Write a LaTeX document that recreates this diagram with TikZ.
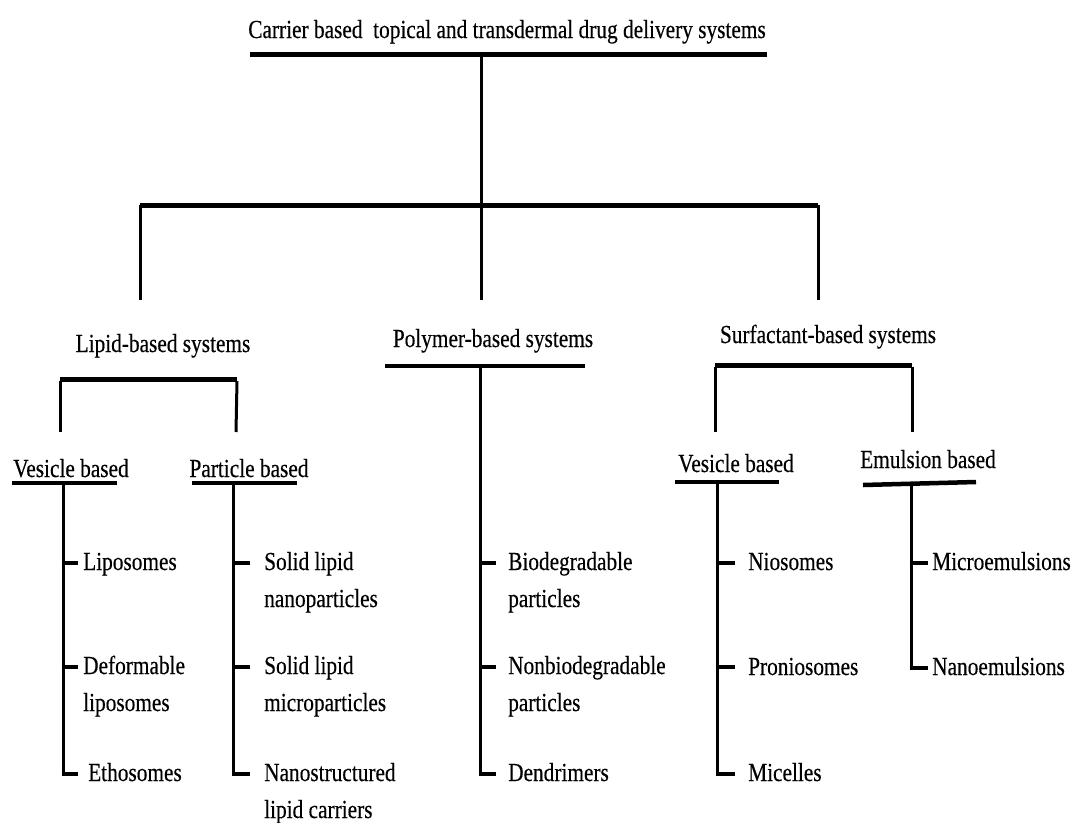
\documentclass[tikz,border=0pt]{standalone}
\usepackage{fontspec}
\setmainfont{Liberation Serif}[FakeStretch=0.82,FakeBold=0.35]
\begin{document}
\begin{tikzpicture}[x=1pt,y=-1pt,
  thickline/.style={line width=5pt},
  underl/.style={line width=4.5pt},
  vline/.style={line width=3pt},
  tickl/.style={line width=4.5pt},
  txt/.style={inner sep=0pt, font=\fontsize{26}{37}\selectfont},
  item/.style={txt, anchor=base west}]
\useasboundingbox (0,0) rectangle (1073,822);
% title
\node[txt, anchor=base] (title) at (507,38) {Carrier based\ \ topical and transdermal drug delivery systems};
\coordinate (topL) at (250,54);
\coordinate (topR) at (767,54);
\coordinate (stemT) at (481,54);
\coordinate (barL) at (140,205);
\coordinate (barR) at (818,205);
\coordinate (barM) at (481,205);
\coordinate (lipE) at (140,300);
\coordinate (polE) at (481,300);
\coordinate (surE) at (818,300);
\draw[thickline] (topL) -- (topR);
\draw[vline] (stemT) -- (polE);
\draw[thickline] (barL) -- (barR);
\draw[vline] (barL) -- (lipE);
\draw[vline] (barR) -- (surE);
% level 2
\node[txt, anchor=base] (lipid) at (163,352) {Lipid-based systems};
\node[txt, anchor=base] (poly) at (493,347) {Polymer-based systems};
\node[txt, anchor=base] (surf) at (828,343) {Surfactant-based systems};
% polymer underline and stem
\coordinate (polUL) at (385,366);
\coordinate (polUR) at (585,366);
\coordinate (polV) at (480,366);
\coordinate (polVE) at (480,776);
\draw[underl] (polUL) -- (polUR);
\draw[vline] (polV) -- (polVE);
% lipid bracket
\coordinate (lbL) at (60,379);
\coordinate (lbR) at (237,379);
\coordinate (lbLE) at (60,432);
\coordinate (lbRE) at (236,432);
\draw[thickline] (lbL) -- (lbR);
\draw[vline] ([yshift=-2pt]lbL) -- (lbLE);
\draw[vline] ([yshift=-2pt]lbR) -- (lbRE);
% surfactant bracket
\coordinate (sbL) at (715,365);
\coordinate (sbR) at (912,365);
\coordinate (sbLE) at (715,432);
\coordinate (sbRE) at (912,432);
\draw[thickline] (sbL) -- (sbR);
\draw[vline] ([yshift=-2pt]sbL) -- (sbLE);
\draw[vline] ([yshift=-2pt]sbR) -- (sbRE);
% level 3 headings
\node[txt, anchor=base] (vesL) at (71,477) {Vesicle based};
\node[txt, anchor=base] (part) at (249,477) {Particle based};
\node[txt, anchor=base] (vesR) at (736,472) {Vesicle based};
\node[txt, anchor=base] (emul) at (928,468) {Emulsion based};
\draw[underl] (12,483) coordinate (vlA) -- (117,483) coordinate (vlB);
\draw[underl] (192,483) coordinate (paA) -- (297,483) coordinate (paB);
\draw[underl] (675,482) coordinate (vrA) -- (779,482) coordinate (vrB);
\draw[underl] (863,485) coordinate (emA) -- (976,482) coordinate (emB);
% stems
\coordinate (vlT) at (63,483);   \coordinate (vlE) at (63,776);
\coordinate (paT) at (233,483);  \coordinate (paE) at (233,776);
\coordinate (vrT) at (717,482);  \coordinate (vrE) at (717,776);
\coordinate (emT) at (911,484);  \coordinate (emE) at (911,670);
\draw[vline] (vlT) -- (vlE);
\draw[vline] (paT) -- (paE);
\draw[vline] (vrT) -- (vrE);
\draw[vline] (emT) -- (emE);
% ticks
\foreach \y in {563,667,774} {
  \draw[tickl] (61.5,\y) -- (78,\y);
  \draw[tickl] (231.5,\y) -- (250,\y);
  \draw[tickl] (478.5,\y) -- (496,\y);
  \draw[tickl] (715.5,\y) -- (735,\y);
}
\foreach \y in {563,668} {
  \draw[tickl] (909.5,\y) -- (928,\y);
}
% items: lipid vesicle
\node[item] (lipo) at (83,570) {Liposomes};
\node[item] (defl) at (83,674) {\begin{tabular}[t]{@{}l@{}}Deformable\\liposomes\end{tabular}};
\node[item] (etho) at (88,781) {Ethosomes};
% particle
\node[item] (sln) at (264,570) {\begin{tabular}[t]{@{}l@{}}Solid lipid\\nanoparticles\end{tabular}};
\node[item] (slm) at (264,674) {\begin{tabular}[t]{@{}l@{}}Solid lipid\\microparticles\end{tabular}};
\node[item] (nlc) at (264,781) {\begin{tabular}[t]{@{}l@{}}Nanostructured\\lipid carriers\end{tabular}};
% polymer
\node[item] (bio) at (508,570) {\begin{tabular}[t]{@{}l@{}}Biodegradable\\particles\end{tabular}};
\node[item] (nbio) at (508,674) {\begin{tabular}[t]{@{}l@{}}Nonbiodegradable\\particles\end{tabular}};
\node[item] (dend) at (508,781) {Dendrimers};
% surfactant vesicle
\node[item] (nio) at (748,570) {Niosomes};
\node[item] (pnio) at (748,675) {Proniosomes};
\node[item] (mic) at (748,781) {Micelles};
% emulsion
\node[item] (mem) at (932,570) {Microemulsions};
\node[item] (nem) at (932,675) {Nanoemulsions};
\end{tikzpicture}
\end{document}
